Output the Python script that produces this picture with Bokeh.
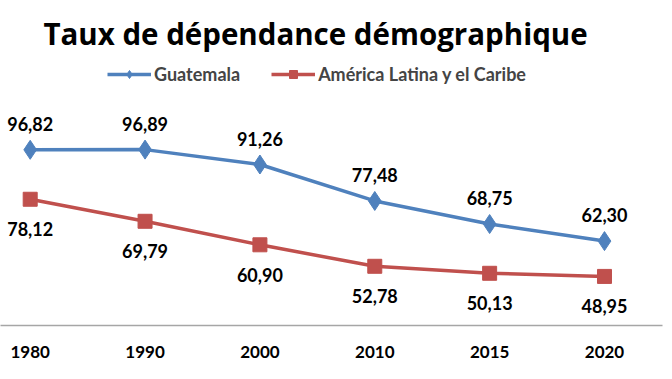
from bokeh.plotting import figure
from bokeh.models import (ColumnDataSource, Range1d, FixedTicker, Legend, LegendItem, Label)
from bokeh.core.properties import value
from bokeh.embed import file_html
from bokeh.resources import INLINE

title_text = "Taux de dépendance démographique"
years = ["1980", "1990", "2000", "2010", "2015", "2020"]
guatemala = [96.82, 96.89, 91.26, 77.48, 68.75, 62.30]
alc = [78.12, 69.79, 60.90, 52.78, 50.13, 48.95]
series_names = ["Guatemala", "América Latina y el Caribe"]

BLUE = "#4F81BD"
RED = "#C0504D"
FONT = "Lato"

def fmt(v):
    return f"{v:.2f}".replace(".", ",")

idx = list(range(len(years)))
src_g = ColumnDataSource(dict(x=idx, y=guatemala, lab=[fmt(v) for v in guatemala]))
src_a = ColumnDataSource(dict(x=idx, y=alc, lab=[fmt(v) for v in alc]))

p = figure(width=672, height=379, output_backend="svg", toolbar_location=None,
           x_range=Range1d(-0.2586, 5.505), y_range=Range1d(30.39, 153.27),
           min_border_left=0, min_border_right=10, min_border_top=0, min_border_bottom=54)
p.outline_line_color = None
p.xgrid.visible = False
p.ygrid.visible = False
p.yaxis.visible = False
p.background_fill_color = "white"
p.border_fill_color = "white"

ax = p.xaxis[0]
ax.ticker = FixedTicker(ticks=idx)
ax.major_label_overrides = {i: y for i, y in zip(idx, years)}
ax.major_tick_line_color = None
ax.minor_tick_line_color = None
ax.axis_line_color = "#A6A6A6"
ax.axis_line_width = 1.5
ax.major_label_text_font = FONT
ax.major_label_text_font_style = "bold"
ax.major_label_text_font_size = "17px"
ax.major_label_text_color = "black"
ax.major_label_standoff = 14

lg = p.line("x", "y", source=src_g, line_color=BLUE, line_width=3.5)
mg = p.scatter("x", "y", source=src_g, marker="diamond", size=19, fill_color=BLUE, line_color=BLUE)
la = p.line("x", "y", source=src_a, line_color=RED, line_width=3.5)
ma = p.scatter("x", "y", source=src_a, marker="square", size=14, fill_color=RED, line_color=RED)

p.text("x", "y", text="lab", source=src_g, text_font=value(FONT), text_font_style="bold",
       text_font_size="18px", text_color="black", text_align="center",
       text_baseline="middle", y_offset=-26)
p.text("x", "y", text="lab", source=src_a, text_font=value(FONT), text_font_style="bold",
       text_font_size="18px", text_color="black", text_align="center",
       text_baseline="middle", y_offset=30)

legend = Legend(items=[LegendItem(label=series_names[0], renderers=[lg, mg]),
                       LegendItem(label=series_names[1], renderers=[la, ma])],
                location=(107, 240), orientation="horizontal",
                glyph_width=44, glyph_height=20, label_height=20, label_standoff=3,
                spacing=31, padding=0, margin=0,
                label_text_font=FONT, label_text_font_style="bold",
                label_text_font_size="18px", border_line_color=None,
                background_fill_alpha=0)
p.add_layout(legend)

p.add_layout(Label(x=315, y=292, x_units="screen", y_units="screen", text=title_text,
                   text_font="Open Sans", text_font_style="bold", text_font_size="29.5px",
                   text_align="center", text_baseline="alphabetic", text_color="black"))

open("out.html", "w").write(file_html(p, INLINE))
